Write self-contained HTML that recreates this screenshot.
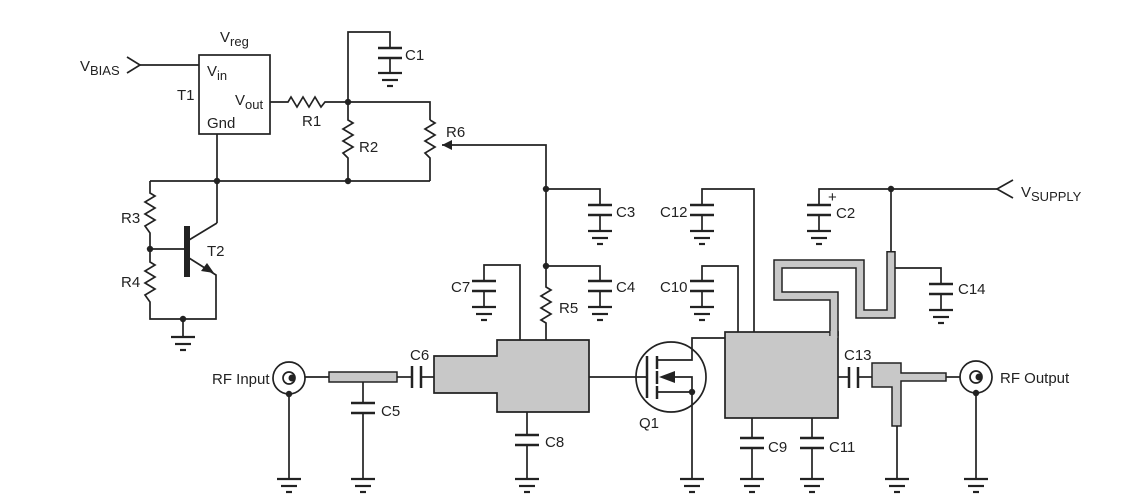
<!DOCTYPE html>
<html><head><meta charset="utf-8"><style>
html,body{margin:0;padding:0;background:#fff;}
svg{display:block;}
text{font-family:"Liberation Sans",sans-serif;font-size:15px;fill:#222;}
</style></head><body>
<svg width="1130" height="498" viewBox="0 0 1130 498" xmlns="http://www.w3.org/2000/svg">
<defs>
<g id="gnd" stroke="#222" stroke-width="2.2" fill="none">
<line x1="-12" y1="0" x2="12" y2="0"/><line x1="-8" y1="7" x2="8" y2="7"/><line x1="-3" y1="13" x2="3" y2="13"/>
</g>
<g id="cap" stroke="#222" stroke-width="2.5" fill="none">
<line x1="-12" y1="0" x2="12" y2="0"/><line x1="-12" y1="10" x2="12" y2="10"/>
</g>
</defs>
<g stroke="#222" stroke-width="1.7" fill="none">
<polyline points="127,57 140,65 127,73"/>
<line x1="140" y1="65" x2="199" y2="65"/>
<rect x="199" y="55" width="71" height="79"/>
<polyline points="270,102 288,102 291,97 297,107 303,97 309,107 315,97 321,107 325,102 348,102"/>
<polyline points="348,102 348,32 390,32 390,48"/>
<line x1="390" y1="58" x2="390" y2="73"/>
<polyline points="348,102 430,102 430,120"/>
<polyline points="430,120 435,123 425,129 435,135 425,141 435,147 425,153 430,158 430,181"/>
<polyline points="348,102 348,120 353,123 343,129 353,135 343,141 353,147 343,153 348,158 348,181"/>
<polyline points="546,266 546,145 442,145"/>
<line x1="150" y1="181" x2="430" y2="181"/>
<line x1="217" y1="134" x2="217" y2="223"/>
<line x1="217" y1="223" x2="189" y2="240"/>
<polyline points="150,181 150,193 155,196 145,202 155,208 145,214 155,220 145,226 150,233 150,262 155,265 145,271 155,277 145,283 155,289 145,295 150,302 150,319 216,319 216,275 189,258"/>
<line x1="150" y1="249" x2="187" y2="249"/>
<line x1="183" y1="319" x2="183" y2="337"/>
<polyline points="546,266 546,287 551,290 541,296 551,302 541,308 551,314 541,320 546,323 546,340"/>
<polyline points="546,189 600,189 600,205"/><line x1="600" y1="215" x2="600" y2="231"/>
<polyline points="546,266 600,266 600,281"/><line x1="600" y1="291" x2="600" y2="307"/>
<polyline points="520,340 520,265 484,265 484,281"/><line x1="484" y1="291" x2="484" y2="307"/>
<line x1="527" y1="412" x2="527" y2="435"/><line x1="527" y1="445" x2="527" y2="479"/>
<circle cx="289" cy="378" r="16"/>
<circle cx="289" cy="378" r="6"/>
<line x1="289" y1="394" x2="289" y2="479"/>
<line x1="305" y1="377" x2="329" y2="377"/>
<line x1="397" y1="377" x2="412" y2="377"/>
<line x1="421" y1="377" x2="434" y2="377"/>
<line x1="363" y1="382" x2="363" y2="403"/><line x1="363" y1="413" x2="363" y2="479"/>
<line x1="589" y1="377" x2="647" y2="377"/>
<circle cx="671" cy="377" r="35"/>
<polyline points="657,360 692,360 692,338 725,338"/>
<polyline points="657,392 692,392 692,479"/>
<polyline points="672,377 692,377 692,392"/>
<polyline points="754,332 754,189 702,189 702,205"/><line x1="702" y1="215" x2="702" y2="231"/>
<polyline points="738,332 738,266 702,266 702,281"/><line x1="702" y1="291" x2="702" y2="307"/>
<line x1="752" y1="418" x2="752" y2="438"/><line x1="752" y1="448" x2="752" y2="479"/>
<line x1="812" y1="418" x2="812" y2="438"/><line x1="812" y1="448" x2="812" y2="479"/>
<polyline points="819,205 819,189 997,189"/>
<polyline points="1013,180 997,189 1013,198"/>
<line x1="819" y1="214" x2="819" y2="231"/>
<line x1="891" y1="189" x2="891" y2="252"/>
<polyline points="895,268 941,268 941,284"/><line x1="941" y1="294" x2="941" y2="310"/>
<line x1="838" y1="377" x2="849" y2="377"/><line x1="858" y1="377" x2="872" y2="377"/>
<line x1="897" y1="426" x2="897" y2="479"/>
<line x1="946" y1="377" x2="960" y2="377"/>
<circle cx="976" cy="377" r="16"/>
<circle cx="976" cy="377" r="6"/>
<line x1="976" y1="393" x2="976" y2="479"/>
</g>
<g stroke="#222" stroke-width="2.5">
<line x1="412" y1="366" x2="412" y2="388"/><line x1="421" y1="366" x2="421" y2="388"/>
<line x1="849" y1="367" x2="849" y2="388"/><line x1="858" y1="367" x2="858" y2="388"/>
<line x1="647" y1="356" x2="647" y2="398"/>
<line x1="657" y1="356" x2="657" y2="369"/><line x1="657" y1="371" x2="657" y2="384"/><line x1="657" y1="386" x2="657" y2="399"/>
</g>
<rect x="184" y="226" width="6" height="51" fill="#222"/>
<polygon points="214,273 201,271 207,263" fill="#222"/>
<polygon points="659,377 675,371 675,383" fill="#222"/>
<rect x="329" y="372" width="68" height="10" fill="#c8c8c8" stroke="#222" stroke-width="1.5"/>
<polygon points="434,356 497,356 497,340 589,340 589,412 497,412 497,393 434,393" fill="#c8c8c8" stroke="#222" stroke-width="1.7"/>
<rect x="725" y="332" width="113" height="86" fill="#c8c8c8" stroke="#222" stroke-width="1.7"/>
<polyline points="834,336 834,296 778,296 778,264 860,264 860,314 891,314 891,251" fill="none" stroke="#222" stroke-width="9.5" stroke-linejoin="miter"/>
<polyline points="834,338 834,296 778,296 778,264 860,264 860,314 891,314 891,252.5" fill="none" stroke="#c8c8c8" stroke-width="6.5" stroke-linejoin="miter"/>
<rect x="830.5" y="331" width="6.5" height="10" fill="#c8c8c8"/>
<polygon points="872,363 901,363 901,373 946,373 946,381 901,381 901,426 892,426 892,387 872,387" fill="#c8c8c8" stroke="#222" stroke-width="1.5"/>
<use href="#cap" x="390" y="48"/>
<use href="#cap" x="600" y="205"/>
<use href="#cap" x="600" y="281"/>
<use href="#cap" x="484" y="281"/>
<use href="#cap" x="527" y="435"/>
<use href="#cap" x="363" y="403"/>
<use href="#cap" x="702" y="205"/>
<use href="#cap" x="702" y="281"/>
<use href="#cap" x="819" y="205"/>
<use href="#cap" x="941" y="284"/>
<use href="#cap" x="752" y="438"/>
<use href="#cap" x="812" y="438"/>
<use href="#gnd" x="390" y="73"/>
<use href="#gnd" x="600" y="231"/>
<use href="#gnd" x="600" y="307"/>
<use href="#gnd" x="484" y="307"/>
<use href="#gnd" x="702" y="231"/>
<use href="#gnd" x="702" y="307"/>
<use href="#gnd" x="819" y="231"/>
<use href="#gnd" x="941" y="310"/>
<use href="#gnd" x="183" y="337"/>
<use href="#gnd" x="289" y="479"/>
<use href="#gnd" x="363" y="479"/>
<use href="#gnd" x="527" y="479"/>
<use href="#gnd" x="692" y="479"/>
<use href="#gnd" x="752" y="479"/>
<use href="#gnd" x="812" y="479"/>
<use href="#gnd" x="897" y="479"/>
<use href="#gnd" x="976" y="479"/>
<g fill="#222">
<circle cx="348" cy="102" r="3.2"/><circle cx="348" cy="181" r="3.2"/><circle cx="217" cy="181" r="3.2"/>
<circle cx="150" cy="249" r="3.2"/><circle cx="183" cy="319" r="3.2"/>
<circle cx="546" cy="189" r="3.2"/><circle cx="546" cy="266" r="3.2"/>
<circle cx="692" cy="392" r="3.2"/><circle cx="891" cy="189" r="3.2"/>
<circle cx="292" cy="378" r="3.5"/><circle cx="289" cy="394" r="3.2"/>
<circle cx="979" cy="377" r="3.5"/><circle cx="976" cy="393" r="3.2"/>
<polygon points="442,145 452,140 452,150"/>
</g>
<text x="80" y="71">V<tspan font-size="13" dy="4">BIAS</tspan></text>
<text x="220" y="42">V<tspan font-size="13" dy="4">reg</tspan></text>
<text x="207" y="76">V<tspan font-size="13" dy="4">in</tspan></text>
<text x="177" y="100">T1</text>
<text x="235" y="105">V<tspan font-size="13" dy="4">out</tspan></text>
<text x="207" y="128">Gnd</text>
<text x="302" y="126">R1</text>
<text x="405" y="60">C1</text>
<text x="359" y="152">R2</text>
<text x="446" y="137">R6</text>
<text x="121" y="223">R3</text>
<text x="207" y="256">T2</text>
<text x="121" y="287">R4</text>
<text x="616" y="217">C3</text>
<text x="616" y="292">C4</text>
<text x="451" y="292">C7</text>
<text x="559" y="313">R5</text>
<text x="410" y="360">C6</text>
<text x="212" y="384">RF Input</text>
<text x="381" y="416">C5</text>
<text x="545" y="447">C8</text>
<text x="639" y="428">Q1</text>
<text x="660" y="217">C12</text>
<text x="660" y="292">C10</text>
<text x="828" y="202" font-size="11">+</text>
<text x="836" y="218">C2</text>
<text x="1021" y="197">V<tspan font-size="13" dy="4">SUPPLY</tspan></text>
<text x="958" y="294">C14</text>
<text x="844" y="360">C13</text>
<text x="1000" y="383">RF Output</text>
<text x="768" y="452">C9</text>
<text x="829" y="452">C11</text>
</svg>
</body></html>
